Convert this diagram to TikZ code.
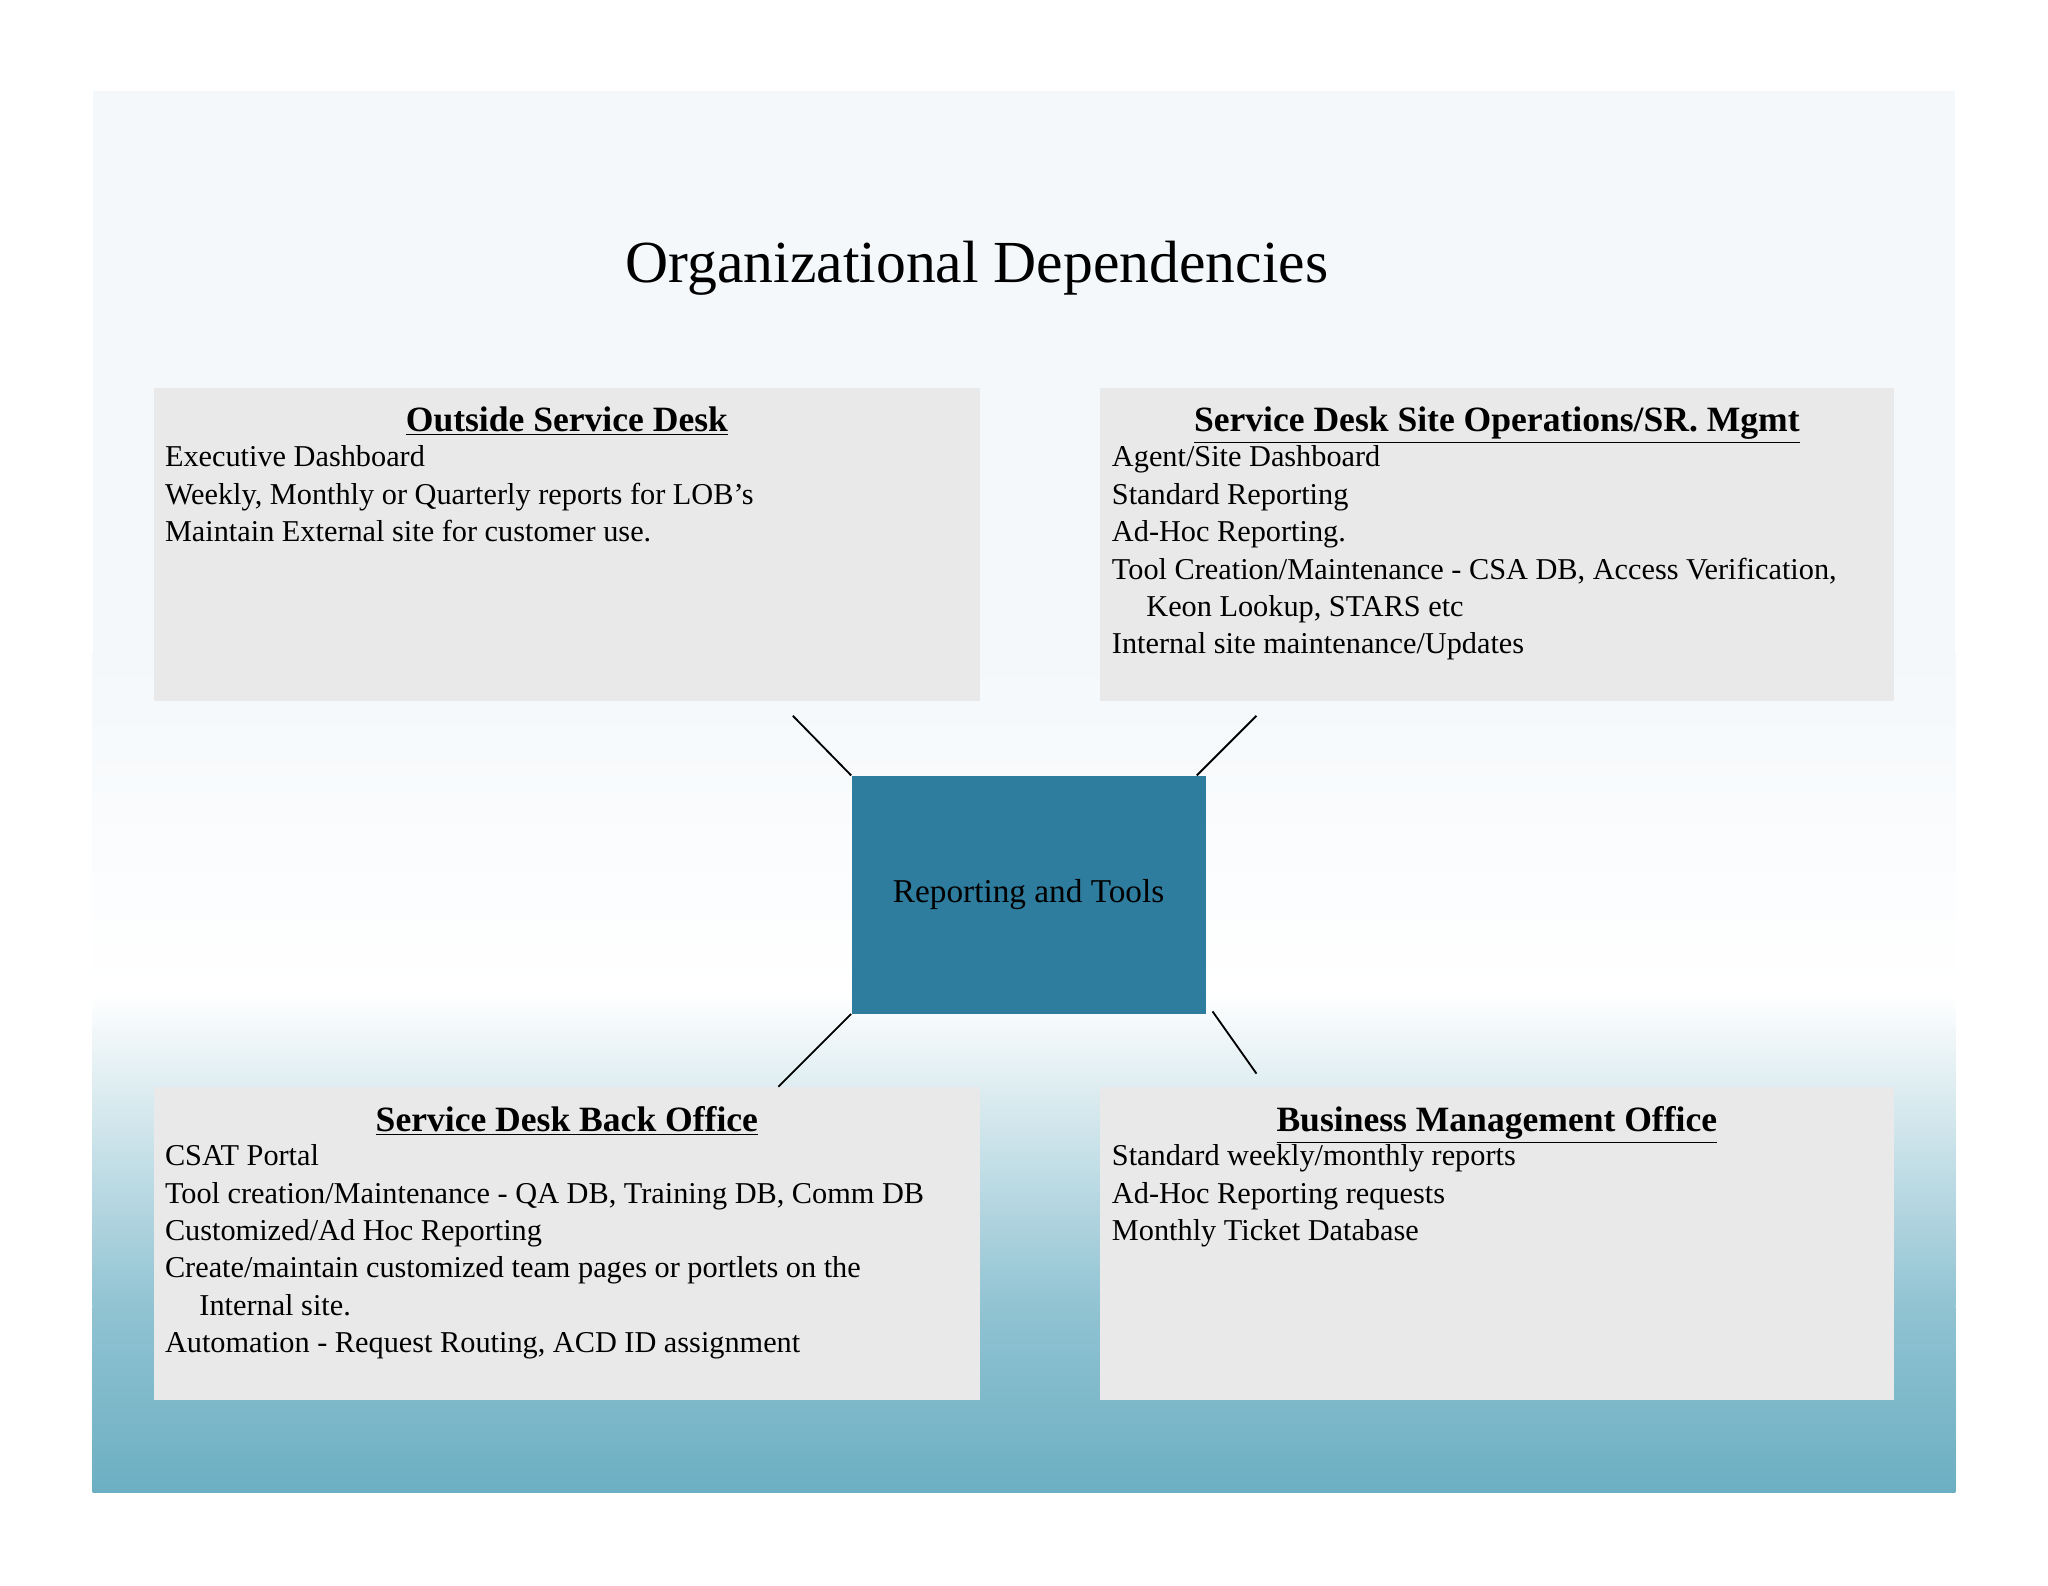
\documentclass[tikz,border=0pt]{standalone}
\usepackage{fontspec}
\setmainfont{Liberation Serif}
\usetikzlibrary{calc}
\definecolor{boxg}{HTML}{E9E9EA}
\definecolor{ctr}{HTML}{2E7C9E}
\definecolor{teal}{HTML}{6CAFC3}
\definecolor{pale}{HTML}{F4F8FB}
\tikzset{
  panel/.style={fill=boxg, draw=none},
  head/.style={font=\fontsize{15.5pt}{18pt}\selectfont\bfseries, anchor=base},
  body/.style={font=\fontsize{13.2pt}{16.3pt}\selectfont, anchor=north west, align=left, inner sep=0pt},
  link/.style={black, line width=0.8pt}
}
\newcommand{\hd}[1]{\underline{#1}}
\begin{document}
\begin{tikzpicture}[x=0.02cm,y=-0.02cm]
\useasboundingbox (0,0) rectangle (1568,1214);
\fill[white] (0,0) rectangle (1568,1214);
\fill[pale] (71,70) rectangle (1497,760);
\shade[top color=pale, bottom color=white] (71,500) rectangle (1497,760);
\shade[top color=white, bottom color=teal!75] (71,760) rectangle (1497,1000);
\shade[top color=teal!75, bottom color=teal] (71,1000) rectangle (1497,1143);
\node[font=\fontsize{26pt}{30pt}\selectfont] (title) at (748,205) {Organizational Dependencies};
\fill[panel] (118,297) rectangle (750,537);
\fill[panel] (842,297) rectangle (1450,537);
\fill[panel] (118,832) rectangle (750,1072);
\fill[panel] (842,832) rectangle (1450,1072);
\node[fill=ctr, minimum width=271*0.02cm, minimum height=182*0.02cm, inner sep=0pt, font=\fontsize{14.5pt}{17pt}\selectfont] (c) at (787.5,685) {Reporting and Tools};
\node[head] (h1) at (434,330) {\hd{Outside Service Desk}};
\node[head] (h2) at (1146,330) {\hd{Service Desk Site Operations/SR. Mgmt}};
\node[head] (h3) at (434,866) {\hd{Service Desk Back Office}};
\node[head] (h4) at (1146,866) {\hd{Business Management Office}};
\node[body] (b1) at (126,341) {Executive Dashboard\\Weekly, Monthly or Quarterly reports for LOB’s\\Maintain External site for customer use.};
\node[body] (b2) at (851,341) {Agent/Site Dashboard\\Standard Reporting\\Ad-Hoc Reporting.\\Tool Creation/Maintenance - CSA DB, Access Verification,\\\hspace*{15pt}Keon Lookup, STARS etc\\Internal site maintenance/Updates};
\node[body] (b3) at (126,876) {CSAT Portal\\Tool creation/Maintenance - QA DB, Training DB, Comm DB\\Customized/Ad Hoc Reporting\\Create/maintain customized team pages or portlets on the\\\hspace*{15pt}Internal site.\\Automation - Request Routing, ACD ID assignment};
\node[body] (b4) at (851,876) {Standard weekly/monthly reports\\Ad-Hoc Reporting requests\\Monthly Ticket Database};
\coordinate (e1) at (607,548);
\coordinate (e2) at (962,548);
\coordinate (e3) at (596,832);
\coordinate (e4) at (962,822);
\draw[link] (e1) -- (c.north west);
\draw[link] (e2) -- ($(c.north east)+(-7,0)$);
\draw[link] (e3) -- (c.south west);
\draw[link] (e4) -- ($(c.south east)+(5,-2)$);
\end{tikzpicture}
\end{document}
